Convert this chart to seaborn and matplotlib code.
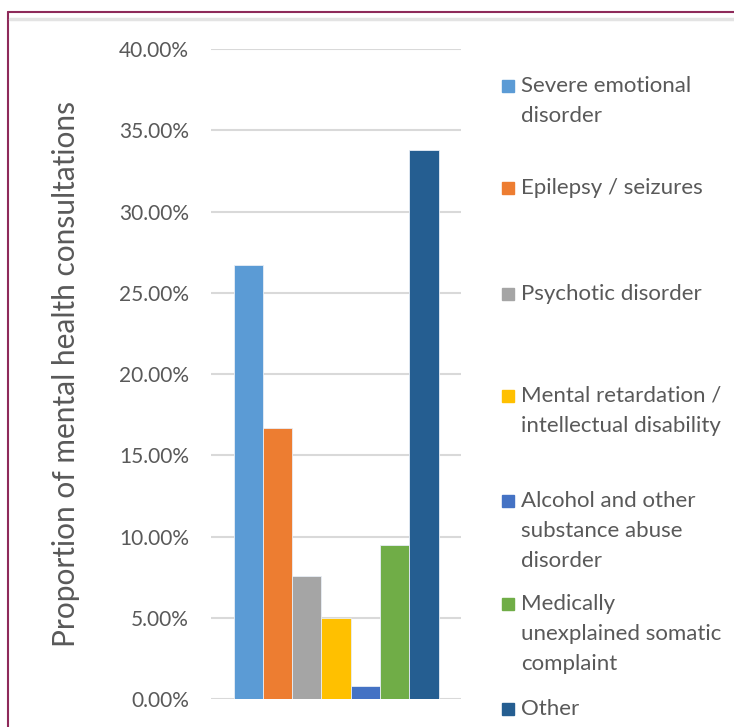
import pandas as pd
import matplotlib.pyplot as plt
import seaborn as sns
from matplotlib.lines import Line2D
from matplotlib.patches import Rectangle
from matplotlib.ticker import FuncFormatter

# chart data
conditions = [
    "Severe emotional\ndisorder",
    "Epilepsy / seizures",
    "Psychotic disorder",
    "Mental retardation /\nintellectual disability",
    "Alcohol and other\nsubstance abuse\ndisorder",
    "Medically\nunexplained somatic\ncomplaint",
    "Other",
]
proportions = [26.7, 16.7, 7.6, 5.0, 0.8, 9.45, 33.8]
colors = ["#5B9BD5", "#ED7D31", "#A5A5A5", "#FFC000", "#4472C4", "#70AD47", "#255E91"]
y_ticks = [0, 5, 10, 15, 20, 25, 30, 35, 40]

df = pd.DataFrame({"group": [""] * len(conditions),
                   "condition": conditions,
                   "value": proportions})

sns.set_theme(style="white")
plt.rcParams["font.family"] = ["Lato", "DejaVu Sans"]
text_grey = "#595959"

W, H = 734, 727
fig = plt.figure(figsize=(W / 100, H / 100), dpi=100)
ax = fig.add_axes([0.2875, 0.0385, 0.3406, 0.8941])

sns.barplot(data=df, x="group", y="value", hue="condition", hue_order=conditions,
            palette=colors, saturation=1, width=0.82, legend=False, ax=ax,
            edgecolor="#e8eef6", linewidth=0.6)

ax.set_xlim(-0.5, 0.5)
ax.set_ylim(0, 40)
ax.set_yticks(y_ticks)
ax.yaxis.set_major_formatter(FuncFormatter(lambda v, _: f"{v:.2f}%"))
ax.tick_params(axis="y", labelsize=15, colors=text_grey, length=0, pad=16)
ax.set_xticks([])
ax.set_xlabel("")
ax.set_ylabel("Proportion of mental health consultations", fontsize=21.5,
              color=text_grey, labelpad=28)
ax.grid(axis="y", color="#d9d9d9", linewidth=1.5)
ax.set_axisbelow(True)
for s in ax.spines.values():
    s.set_visible(False)

# legend drawn by hand so the spacing follows the original (pixel rows of first lines)
legend_y = [86, 188, 294, 396, 501, 604, 709]
line_gap = 30
for lab, col, yc in zip(conditions, colors, legend_y):
    fig.patches.append(Rectangle((502 / W, 1 - (yc + 6) / H), 12 / W, 12 / H,
                                 transform=fig.transFigure, color=col))
    for i, line in enumerate(lab.split("\n")):
        fig.text(521 / W, 1 - (yc + i * line_gap) / H, line, fontsize=16,
                 color=text_grey, va="center", ha="left")

# outer frame lines
fig.add_artist(Line2D([8 / W, 8 / W], [0, 1 - 12 / H], color="#8e2a5a", linewidth=1.5))
fig.add_artist(Line2D([8 / W, 1], [1 - 12 / H, 1 - 12 / H], color="#8e2a5a", linewidth=1.5))
fig.add_artist(Line2D([10 / W, 1], [1 - 19 / H, 1 - 19 / H], color="#e3e3e3", linewidth=2.5))

fig.savefig("out.png", dpi=100)
